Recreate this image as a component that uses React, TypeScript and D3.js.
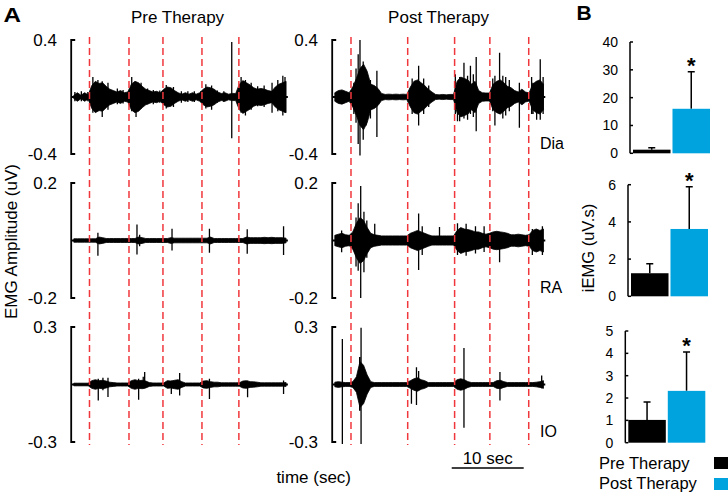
import React from 'react';
import * as d3 from 'd3';

// ---------- Panel A data ----------
const BIN = 0.5; // seconds per envelope sample
const TRACE_SECONDS = 29.6;
const muscles = ['Dia', 'RA', 'IO'];
const axisMax = [0.4, 0.2, 0.3];
const axisTickLabels = [['0.4', '-0.4'], ['0.2', '-0.2'], ['0.3', '-0.3']];
const conditions = ['Pre Therapy', 'Post Therapy'];
const preMarkerTimes = [2.43, 7.92, 12.64, 18.06, 23.19];
const postMarkerTimes = [2.5, 10.38, 16.9, 21.8, 27.2];
const scaleBarSeconds = 10;

// envelope amplitudes (uV), one per 0.5 s
const preDia = [0.012, 0.03, 0.012, 0.03, 0.015, 0.08, 0.11, 0.095, 0.1, 0.075,
  0.055, 0.045, 0.035, 0.045, 0.03, 0.035, 0.09, 0.11, 0.1, 0.075,
  0.055, 0.045, 0.035, 0.04, 0.03, 0.055, 0.07, 0.065, 0.045, 0.03,
  0.02, 0.03, 0.02, 0.03, 0.02, 0.03, 0.055, 0.07, 0.065, 0.055,
  0.035, 0.025, 0.03, 0.02, 0.025, 0.025, 0.09, 0.115, 0.1, 0.085,
  0.065, 0.055, 0.06, 0.055, 0.045, 0.04, 0.07, 0.09, 0.1, 0.11];
const postDia = [0.03, 0.045, 0.05, 0.04, 0.03, 0.07, 0.13, 0.2, 0.23, 0.18,
  0.09, 0.08, 0.06, 0.025, 0.018, 0.02, 0.018, 0.02, 0.018, 0.02,
  0.018, 0.07, 0.11, 0.12, 0.1, 0.08, 0.055, 0.035, 0.018, 0.015,
  0.018, 0.015, 0.018, 0.018, 0.11, 0.14, 0.13, 0.12, 0.09, 0.11,
  0.045, 0.03, 0.028, 0.028, 0.09, 0.11, 0.12, 0.1, 0.075, 0.065,
  0.045, 0.035, 0.055, 0.035, 0.028, 0.09, 0.11, 0.12, 0.09];
const preRA = [0.006, 0.006, 0.006, 0.006, 0.006, 0.006, 0.006, 0.012, 0.01, 0.007,
  0.007, 0.007, 0.007, 0.007, 0.007, 0.007, 0.007, 0.007, 0.012, 0.01,
  0.007, 0.007, 0.007, 0.007, 0.007, 0.007, 0.007, 0.01, 0.008, 0.008,
  0.008, 0.008, 0.008, 0.008, 0.008, 0.008, 0.008, 0.008, 0.012, 0.007,
  0.007, 0.007, 0.007, 0.007, 0.007, 0.007, 0.007, 0.007, 0.012, 0.01,
  0.01, 0.01, 0.01, 0.011, 0.01, 0.011, 0.01, 0.01, 0.01, 0.008];
const postRA = [0.018, 0.022, 0.025, 0.02, 0.018, 0.03, 0.06, 0.08, 0.07, 0.045,
  0.025, 0.02, 0.018, 0.016, 0.016, 0.016, 0.016, 0.016, 0.016, 0.016,
  0.016, 0.025, 0.03, 0.035, 0.03, 0.025, 0.02, 0.016, 0.016, 0.016,
  0.016, 0.016, 0.016, 0.016, 0.035, 0.045, 0.04, 0.038, 0.035, 0.03,
  0.03, 0.025, 0.022, 0.025, 0.03, 0.032, 0.03, 0.028, 0.025, 0.02,
  0.02, 0.022, 0.02, 0.018, 0.02, 0.035, 0.04, 0.035, 0.04];
const preIO = [0.007, 0.007, 0.007, 0.007, 0.007, 0.02, 0.025, 0.02, 0.022, 0.018,
  0.012, 0.01, 0.008, 0.008, 0.008, 0.008, 0.02, 0.025, 0.02, 0.022,
  0.018, 0.01, 0.008, 0.008, 0.008, 0.008, 0.02, 0.018, 0.022, 0.025,
  0.015, 0.008, 0.008, 0.008, 0.008, 0.008, 0.018, 0.02, 0.015, 0.012,
  0.012, 0.009, 0.009, 0.009, 0.009, 0.009, 0.009, 0.018, 0.02, 0.015,
  0.014, 0.012, 0.009, 0.009, 0.009, 0.009, 0.009, 0.009, 0.009, 0.01];
const postIO = [0.012, 0.015, 0.012, 0.01, 0.01, 0.015, 0.04, 0.12, 0.1, 0.05,
  0.015, 0.01, 0.01, 0.01, 0.01, 0.01, 0.01, 0.01, 0.01, 0.01,
  0.01, 0.02, 0.03, 0.035, 0.025, 0.02, 0.01, 0.01, 0.01, 0.01,
  0.01, 0.01, 0.01, 0.01, 0.025, 0.03, 0.025, 0.015, 0.01, 0.01,
  0.01, 0.01, 0.01, 0.01, 0.01, 0.02, 0.022, 0.015, 0.01, 0.01,
  0.01, 0.01, 0.01, 0.01, 0.01, 0.01, 0.012, 0.015, 0.02];

// isolated spikes: [time s, peak uV, trough uV]
const preDiaSpikes = [[0.4, 0.035, -0.03], [1.3, 0.04, -0.03], [2.2, 0.035, -0.03],
  [2.9, 0.14, -0.11], [3.6, 0.12, -0.1], [4.2, 0.11, -0.14], [5.0, 0.1, -0.09], [6.3, 0.06, -0.05],
  [7.1, 0.05, -0.045], [8.3, 0.14, -0.1], [8.9, 0.1, -0.14], [9.6, 0.1, -0.08], [10.5, 0.06, -0.05],
  [11.3, 0.05, -0.05], [12.2, 0.045, -0.04], [13.1, 0.085, -0.08], [14.1, 0.07, -0.07],
  [15.2, 0.04, -0.04], [16.1, 0.04, -0.035], [17.0, 0.04, -0.035], [17.9, 0.04, -0.035],
  [18.6, 0.09, -0.08], [19.4, 0.08, -0.09], [20.2, 0.045, -0.04], [21.1, 0.04, -0.035],
  [22.2, 0.386, -0.29], [23.5, 0.14, -0.11], [24.1, 0.12, -0.13], [24.9, 0.1, -0.09],
  [25.8, 0.075, -0.065], [26.7, 0.08, -0.07], [27.8, 0.1, -0.11], [28.6, 0.12, -0.1], [29.3, 0.15, -0.13], [29.6, 0.14, -0.11]];
const postDiaSpikes = [[2.9, 0.1, -0.12], [3.2, 0.2, -0.18], [3.75, 0.4, -0.41], [3.5, 0.3, -0.33], [4.2, 0.25, -0.3],
  [4.6, 0.15, -0.2], [5.2, 0.12, -0.15], [6.1, 0.185, -0.28],
  [11.0, 0.13, -0.12], [11.9, 0.22, -0.2], [12.6, 0.13, -0.12], [13.3, 0.08, -0.07],
  [17.0, 0.16, -0.12], [17.3, 0.1, -0.17], [17.6, 0.14, -0.17], [18.2, 0.24, -0.15], [18.7, 0.15, -0.16],
  [19.1, 0.22, -0.12], [19.5, 0.16, -0.14], [19.9, 0.28, -0.24],
  [22.2, 0.13, -0.1], [22.5, 0.15, -0.2], [23.15, 0.31, -0.12], [23.6, 0.15, -0.15], [24.0, 0.14, -0.13],
  [24.5, 0.12, -0.1], [25.9, 0.1, -0.215],
  [27.6, 0.14, -0.12], [27.8, 0.1, -0.12], [28.3, 0.1, -0.16], [28.8, 0.265, -0.16], [29.2, 0.14, -0.12]];
const preRASpikes = [[3.6, 0.027, -0.053], [9.03, 0.056, -0.049], [9.4, 0.02, -0.02], [13.9, 0.041, -0.035],
  [19.1, 0.041, -0.043], [24.35, 0.039, -0.046], [29.4, 0.05, -0.05]];
const postRASpikes = [[1.2, 0.035, -0.041], [3.2, 0.08, -0.09], [3.5, 0.13, -0.105], [3.85, 0.19, -0.2],
  [4.3, 0.1, -0.11], [4.7, 0.07, -0.06], [5.8, 0.058, -0.02],
  [11.9, 0.094, -0.103], [12.4, 0.05, -0.05], [14.8, 0.047, -0.015], [17.3, 0.06, -0.05],
  [18.5, 0.058, -0.053], [19.8, 0.05, -0.045], [21.0, 0.05, -0.04], [23.15, 0.02, -0.076],
  [27.7, 0.04, -0.05], [29.1, 0.05, -0.05]];
const preIOSpikes = [[3.65, 0.03, -0.084], [4.3, 0.035, -0.03], [5.0, 0.035, -0.065], [9.26, 0.03, -0.08],
  [9.9, 0.04, -0.02], [10.1, 0.065, -0.02], [13.8, 0.02, -0.05], [14.96, 0.06, -0.058],
  [19.1, 0.03, -0.075], [24.4, 0.02, -0.067], [29.4, 0.021, -0.05]];
const postIOSpikes = [[1.3, 0.237, -0.31], [3.9, 0.296, -0.31], [3.7, 0.144, -0.137], [10.9, 0.02, -0.1],
  [11.6, 0.09, -0.107], [11.9, 0.07, -0.02], [18.2, 0.19, -0.225], [23.2, 0.065, -0.084], [29.0, 0.047, -0.02]];

const preEnvelopes = [preDia, preRA, preIO];
const postEnvelopes = [postDia, postRA, postIO];
const preSpikes = [preDiaSpikes, preRASpikes, preIOSpikes];
const postSpikes = [postDiaSpikes, postRASpikes, postIOSpikes];

// ---------- Panel B data ----------
const barGroups = ['Pre Therapy', 'Post Therapy'];
const barColors = ['#000000', '#00a3dd'];
const diaMeans = [1.3, 16];
const diaSD = [0.7, 13.3];
const raMeans = [1.24, 3.62];
const raSD = [0.51, 2.27];
const ioMeans = [1.02, 2.32];
const ioSD = [0.8, 1.74];
const barMax = [40, 6, 5];
const barTicks = [[0, 10, 20, 30, 40], [0, 2, 4, 6], [0, 1, 2, 3, 4, 5]];
const barSignificant = [true, true, true];

// ---------- layout ----------
const W = 728;
const H = 497;
const FONT = 'Liberation Sans, Arial, Helvetica, sans-serif';
const RED = '#f0373c';
const rowBands = [[40, 154], [183, 298], [327, 442]];
const panelX0 = [72, 333];
const traceWidth = 213;
const barBands = [[42, 153.3], [184.7, 296.3], [331, 442.7]];
const barAxisX = [630, 628, 625.3];

function Trace({ env, spikes, x, y }) {
  const area = d3.area()
    .x((_, i) => x(i * BIN + BIN / 2))
    .y0((a) => y(-a))
    .y1((a) => y(a));
  const d = area(env);
  const sp = spikes.map(([t, hi, lo]) => `M${x(t)},${y(hi)}V${y(lo)}`).join('');
  const base = `M${x(0)},${y(0)}H${x(env.length * BIN)}`;
  return (
    <g>
      <path d={d} fill="#000" stroke="#000" strokeWidth={0.8} />
      <path d={base} stroke="#000" strokeWidth={2} />
      <path d={sp} fill="none" stroke="#000" strokeWidth={1.3} />
    </g>
  );
}

function TracePanel({ ci }) {
  const x0 = panelX0[ci];
  const x = d3.scaleLinear().domain([0, TRACE_SECONDS]).range([x0, x0 + traceWidth]);
  const envs = ci === 0 ? preEnvelopes : postEnvelopes;
  const spks = ci === 0 ? preSpikes : postSpikes;
  const markers = ci === 0 ? preMarkerTimes : postMarkerTimes;
  return (
    <g>
      <text x={x0 + traceWidth / 2 - 1} y={22.7} textAnchor="middle" fontSize={17} fontFamily={FONT}>
        {conditions[ci]}
      </text>
      {muscles.map((m, ri) => {
        const [top, bot] = rowBands[ri];
        const y = d3.scaleLinear().domain([-axisMax[ri], axisMax[ri]]).range([bot, top]);
        const bx = x0 - 0.8;
        return (
          <g key={m}>
            <path d={`M${bx + 4},${top}H${bx}V${bot}H${bx + 4}`} fill="none" stroke="#000" strokeWidth={1.8} />
            <text x={x0 - 15} y={top + 6} textAnchor="end" fontSize={17} fontFamily={FONT}>{axisTickLabels[ri][0]}</text>
            <text x={x0 - 15} y={bot + 6} textAnchor="end" fontSize={17} fontFamily={FONT}>{axisTickLabels[ri][1]}</text>
            <Trace env={envs[ri]} spikes={spks[ri]} x={x} y={y} />
            {ci === 1 && (
              <text x={540} y={bot - 5} fontSize={16} fontFamily={FONT}>{m}</text>
            )}
          </g>
        );
      })}
      {markers.map((t, i) => (
        <line key={i} x1={x(t)} x2={x(t)} y1={37} y2={445} stroke={RED} strokeWidth={1.5} strokeDasharray="7,4" />
      ))}
    </g>
  );
}

function BarChart({ bi, means, sds }) {
  const [top, bot] = barBands[bi];
  const ax = barAxisX[bi];
  const y = d3.scaleLinear().domain([0, barMax[bi]]).range([bot, top]);
  const xb = d3.scaleBand().domain(barGroups).range([ax + 3, ax + 80]).paddingInner(0.05);
  return (
    <g>
      {barGroups.map((g, i) => {
        const bx = xb(g);
        const bw = xb.bandwidth();
        const cx = bx + bw / 2;
        const yTop = y(means[i]);
        const yErr = y(means[i] + sds[i]);
        return (
          <g key={g}>
            <path d={`M${cx},${yTop}V${yErr}M${cx - 3.5},${yErr}H${cx + 3.5}`} stroke="#000" strokeWidth={1.5} fill="none" />
            <rect x={bx} y={yTop} width={bw} height={bot - yTop} fill={barColors[i]} />
          </g>
        );
      })}
      {barSignificant[bi] && (
        <text x={xb(barGroups[1]) + xb.bandwidth() / 2} y={y(means[1] + sds[1]) + 1} textAnchor="middle" fontSize={22} fontWeight="bold" fontFamily={FONT}>*</text>
      )}
      <path d={`M${ax},${top}V${bot}`} stroke="#000" strokeWidth={1.5} />
      {barTicks[bi].map((v) => (
        <g key={v}>
          <line x1={ax} x2={ax + 3} y1={y(v)} y2={y(v)} stroke="#000" strokeWidth={1.5} />
          <text x={ax - 12} y={y(v) + 5} textAnchor="end" fontSize={14} fontFamily={FONT}>{v}</text>
        </g>
      ))}
    </g>
  );
}

export default function App() {
  const scaleX = d3.scaleLinear().domain([0, TRACE_SECONDS]).range([panelX0[1], panelX0[1] + traceWidth]);
  const sbStart = 16.5;
  return (
    <svg width={W} height={H} style={{ position: 'absolute', left: 0, top: 0, background: '#fff' }}>
      <rect width={W} height={H} fill="#fff" />
      <text x={3.5} y={21.5} fontSize={20} fontWeight="bold" fontFamily={FONT} textLength={17.5} lengthAdjust="spacingAndGlyphs">A</text>
      <text x={576.5} y={20} fontSize={21} fontWeight="bold" fontFamily={FONT}>B</text>

      <TracePanel ci={0} />
      <TracePanel ci={1} />

      <text transform="translate(17,241.5) rotate(-90)" textAnchor="middle" fontSize={17} fontFamily={FONT}>EMG Amplitude (uV)</text>
      <text x={313.7} y={483} textAnchor="middle" fontSize={17} fontFamily={FONT}>time (sec)</text>

      <line x1={scaleX(sbStart)} x2={scaleX(sbStart + scaleBarSeconds)} y1={468} y2={468} stroke="#000" strokeWidth={1.5} />
      <text x={(scaleX(sbStart) + scaleX(sbStart + scaleBarSeconds)) / 2} y={464.3} textAnchor="middle" fontSize={17} fontFamily={FONT}>10 sec</text>

      <BarChart bi={0} means={diaMeans} sds={diaSD} />
      <BarChart bi={1} means={raMeans} sds={raSD} />
      <BarChart bi={2} means={ioMeans} sds={ioSD} />

      <text transform="translate(594,248) rotate(-90)" textAnchor="middle" fontSize={16.5} fontFamily={FONT}>iEMG (uV.s)</text>

      {barGroups.map((g, i) => (
        <g key={g}>
          <text x={599} y={469 + i * 20} fontSize={16.5} fontFamily={FONT}>{g}</text>
          <rect x={714} y={457 + i * 21} width={16} height={12} fill={barColors[i]} />
        </g>
      ))}
    </svg>
  );
}
